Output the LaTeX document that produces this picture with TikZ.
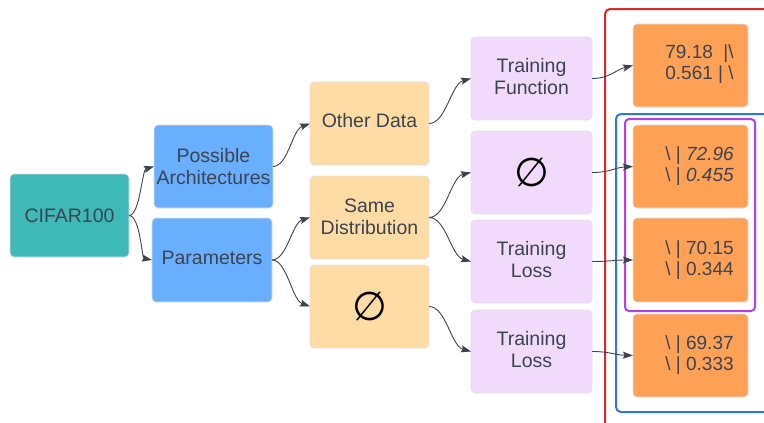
\documentclass[tikz,border=0pt]{standalone}
\usepackage{fontspec}
\setmainfont{Liberation Sans}
\newfontfamily\symfont{DejaVu Sans}
\usetikzlibrary{arrows.meta}
\definecolor{txt}{HTML}{3B4450}
\definecolor{teal}{HTML}{3EB9B7}
\definecolor{bluebox}{HTML}{6AAFFF}
\definecolor{peach}{HTML}{FFDCA6}
\definecolor{lilac}{HTML}{F2DAFC}
\definecolor{orangebox}{HTML}{FFA057}
\definecolor{redline}{HTML}{E0282B}
\definecolor{blueline}{HTML}{2A7AD8}
\definecolor{purpleline}{HTML}{B43EEE}
\tikzset{
  box/.style={rounded corners=4pt, draw=black!12, line width=0.6pt},
  lbl/.style={text=txt, font=\fontsize{19.5}{22}\selectfont, align=center},
  res/.style={text=txt, font=\fontsize{19}{21}\selectfont, align=right},
  empt/.style={font=\symfont\fontsize{40}{40}\selectfont, text=black},
  conn/.style={draw=txt, line width=0.9pt, -{Stealth[length=10pt,width=7pt,inset=1.5pt]}},
}
\begin{document}
\begin{tikzpicture}[x=1pt,y=-1pt]
\useasboundingbox (0,0) rectangle (764,423);
\clip (0,0) rectangle (764,423);
% boxes
\fill[teal, box] (10,174) rectangle (129,257);
\node[lbl] (cifar) at (69.5,215.5) {CIFAR100};
\coordinate (cifarE) at (129,215.5);

\fill[bluebox, box] (154,125) rectangle (273,208);
\node[lbl] (pa) at (213.5,166.5) {Possible\\Architectures};
\coordinate (paW) at (154,166.5); \coordinate (paE) at (273,166.5);

\fill[bluebox, box] (152,218) rectangle (272,302);
\node[lbl] (par) at (212,258) {Parameters};
\coordinate (parW) at (152,260); \coordinate (parE) at (272,260);

\fill[peach, box] (310,82) rectangle (429,165);
\node[lbl] (od) at (369.5,121) {Other Data};
\coordinate (odW) at (310,123.5); \coordinate (odE) at (429,123.5);

\fill[peach, box] (310,176) rectangle (429,259);
\node[lbl] (sd) at (369.5,216.5) {Same\\Distribution};
\coordinate (sdW) at (310,217.5); \coordinate (sdE) at (429,217.5);

\fill[peach, box] (310,265) rectangle (429,348);
\node[empt] (oe) at (369.5,306.5) {∅};
\coordinate (oeW) at (310,306.5); \coordinate (oeE) at (429,306.5);

\fill[lilac, box] (471,37) rectangle (592,120);
\node[lbl] (tf) at (531.5,77) {Training\\Function};
\coordinate (tfW) at (471,78.5); \coordinate (tfE) at (592,78.5);

\fill[lilac, box] (471,131) rectangle (592,214);
\node[empt] (pe) at (531.5,172.5) {∅};
\coordinate (peW) at (471,172.5); \coordinate (peE) at (592,172.5);

\fill[lilac, box] (471,220) rectangle (592,303);
\node[lbl] (tl1) at (531.5,260) {Training\\Loss};
\coordinate (tlaW) at (471,261.5); \coordinate (tlaE) at (592,261.5);

\fill[lilac, box] (471,310) rectangle (592,393);
\node[lbl] (tl2) at (531.5,350) {Training\\Loss};
\coordinate (tlbW) at (471,351.5); \coordinate (tlbE) at (592,351.5);

% results
\fill[orangebox, box] (633,24) rectangle (748,107);
\node[res] (r1) at (699.5,64.5) {79.18\ \ |\textbackslash\\0.561 | \textbackslash};
\coordinate (r1W) at (633,65.5);

\fill[orangebox, box] (633,125) rectangle (748,208);
\node[res] (r2) at (699.5,166) {\textbackslash{} | \textit{72.96}\\\textbackslash{} | \textit{0.455}};
\coordinate (r2W) at (633,166.5);

\fill[orangebox, box] (633,218) rectangle (748,302);
\node[res] (r3) at (699.5,260) {\textbackslash{} | 70.15\\\textbackslash{} | 0.344};
\coordinate (r3W) at (633,260);

\fill[orangebox, box] (633,314) rectangle (748,397);
\node[res] (r4) at (699.5,355) {\textbackslash{} | 69.37\\\textbackslash{} | 0.333};
\coordinate (r4W) at (633,355.5);

% frames
\draw[redline, line width=2pt, rounded corners=5pt] (605,9) rectangle (790,450);
\draw[blueline, line width=2pt, rounded corners=5pt] (616,114) rectangle (790,412);
\draw[purpleline, line width=2pt, rounded corners=4pt] (625,119) rectangle (755,311);

% connectors
\draw[conn] (cifarE) .. controls (140,215.5) and (142,170) .. (paW);
\draw[conn] (cifarE) .. controls (140,215.5) and (142,258) .. (parW);
\draw[conn] (paE) .. controls (288,166.5) and (292,130) .. (odW);
\draw[conn] (parE) .. controls (287,260) and (292,223) .. (sdW);
\draw[conn] (parE) .. controls (287,260) and (292,300) .. (oeW);
\draw[conn] (odE) .. controls (446,123.5) and (451,84) .. (tfW);
\draw[conn] (sdE) .. controls (446,217.5) and (451,177) .. (peW);
\draw[conn] (sdE) .. controls (446,217.5) and (451,256) .. (tlaW);
\draw[conn] (oeE) .. controls (446,306.5) and (451,346) .. (tlbW);
\draw[conn] (tfE) .. controls (610,78.5) and (615,70) .. (r1W);
\draw[conn] (peE) .. controls (610,172.5) and (615,167.5) .. (r2W);
\draw[conn] (tlaE) .. controls (610,261.5) and (615,260) .. (r3W);
\draw[conn] (tlbE) .. controls (610,351.5) and (615,355) .. (r4W);
\end{tikzpicture}
\end{document}
